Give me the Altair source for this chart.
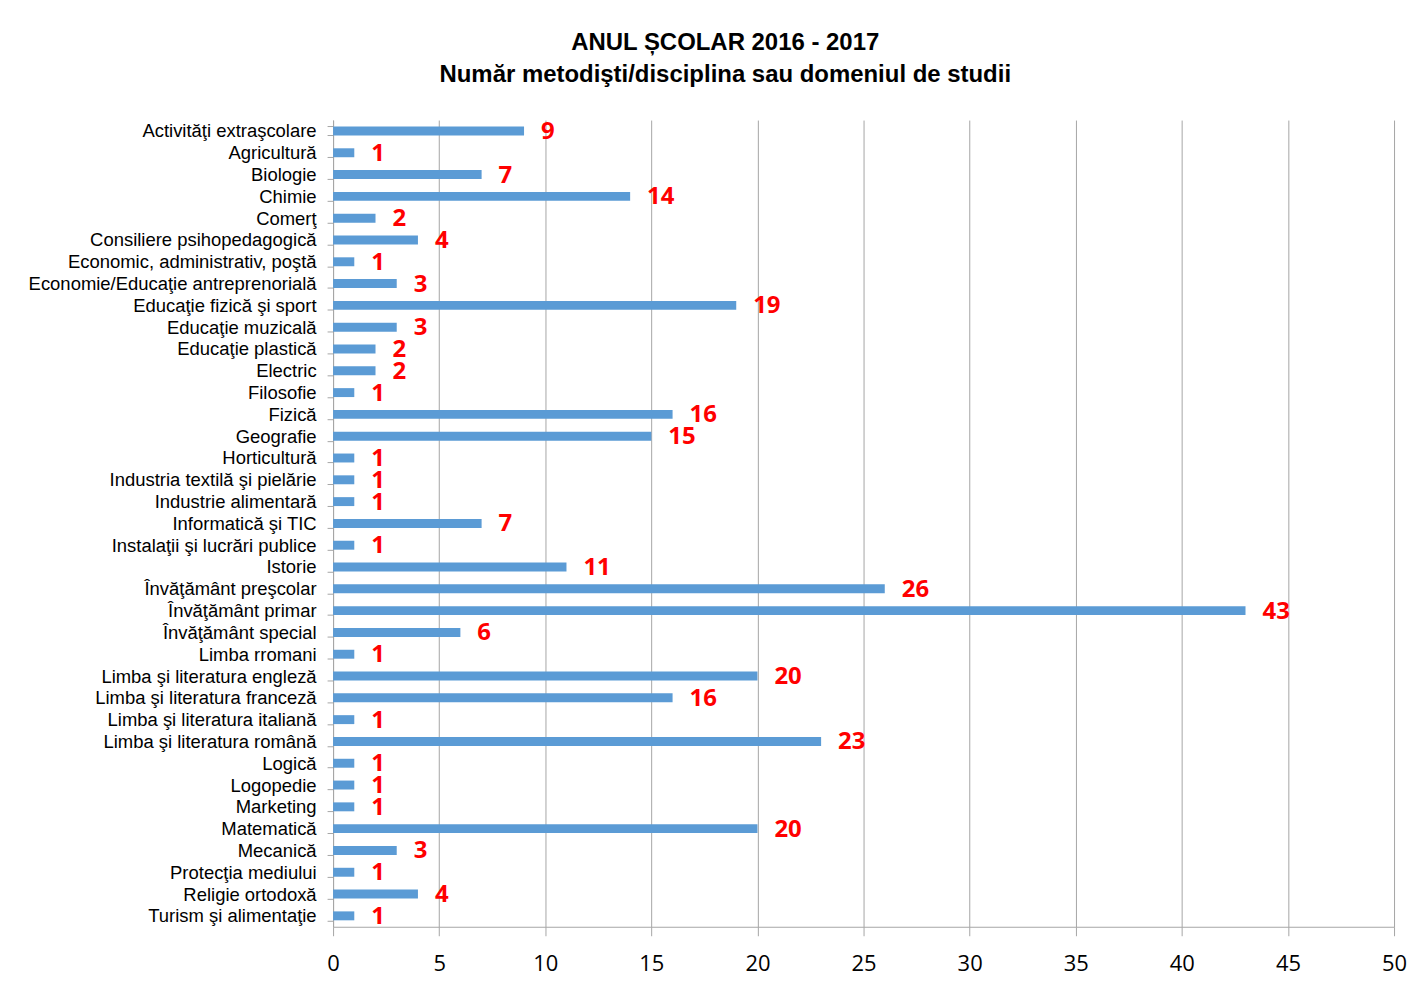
import altair as alt
import pandas as pd

categories = [
    "Activităţi extraşcolare", "Agricultură", "Biologie", "Chimie", "Comerţ",
    "Consiliere psihopedagogică", "Economic, administrativ, poştă",
    "Economie/Educaţie antreprenorială", "Educaţie fizică şi sport",
    "Educaţie muzicală", "Educaţie plastică", "Electric", "Filosofie", "Fizică",
    "Geografie", "Horticultură", "Industria textilă şi pielărie",
    "Industrie alimentară", "Informatică şi TIC", "Instalaţii şi lucrări publice",
    "Istorie", "Învăţământ preşcolar", "Învăţământ primar", "Învăţământ special",
    "Limba rromani", "Limba şi literatura engleză", "Limba şi literatura franceză",
    "Limba şi literatura italiană", "Limba şi literatura română", "Logică",
    "Logopedie", "Marketing", "Matematică", "Mecanică", "Protecţia mediului",
    "Religie ortodoxă", "Turism şi alimentaţie",
]
values = [9, 1, 7, 14, 2, 4, 1, 3, 19, 3, 2, 2, 1, 16, 15, 1, 1, 1, 7, 1,
          11, 26, 43, 6, 1, 20, 16, 1, 23, 1, 1, 1, 20, 3, 1, 4, 1]
x_ticks = list(range(0, 55, 5))

df = pd.DataFrame({"cat": categories, "val": values})

y_enc = alt.Y(
    "cat:N", sort=categories, title=None,
    scale=alt.Scale(paddingInner=0.59, paddingOuter=0.295),
    axis=alt.Axis(
        tickBand="extent", labelFont="Liberation Sans", labelFontSize=18.5,
        labelColor="black", labelPadding=11, tickSize=6, tickColor="#a6a6a6",
        domainColor="#a6a6a6", grid=False, labelLimit=400,
    ),
)
x_enc = alt.X(
    "val:Q", title=None,
    scale=alt.Scale(domain=[0, 50], nice=False),
    axis=alt.Axis(
        values=x_ticks, labelFont="Open Sans", labelFontSize=22,
        labelColor="black", labelPadding=18, tickSize=9, tickColor="#a6a6a6",
        domainColor="#a6a6a6", gridColor="#a6a6a6", gridWidth=1,
        labelFlush=False,
    ),
)

bars = alt.Chart(df).mark_bar(color="#5b9bd5").encode(x=x_enc, y=y_enc)
labels = alt.Chart(df).mark_text(
    align="left", baseline="middle", dx=17, dy=1, fontSize=24,
    fontWeight="bold", color="#ff0000", font="Open Sans",
).encode(x=alt.X("val:Q"), y=alt.Y("cat:N", sort=categories), text="val:Q")

chart = (
    alt.layer(bars, labels)
    .properties(
        width=1064, height=809,
        title=alt.TitleParams(
            text=["ANUL ȘCOLAR 2016 - 2017",
                  "Număr metodişti/disciplina sau domeniul de studii"],
            font="Liberation Sans", fontSize=24, fontWeight="bold",
            color="black", anchor="middle", frame="bounds", offset=24,
            lineHeight=32, dx=8,
        ),
        padding={"left": 20, "top": 22, "right": 0, "bottom": 0},
    )
    .configure_view(stroke=None)
)

chart.save("out.html", embed_options={"renderer": "svg", "actions": False})
